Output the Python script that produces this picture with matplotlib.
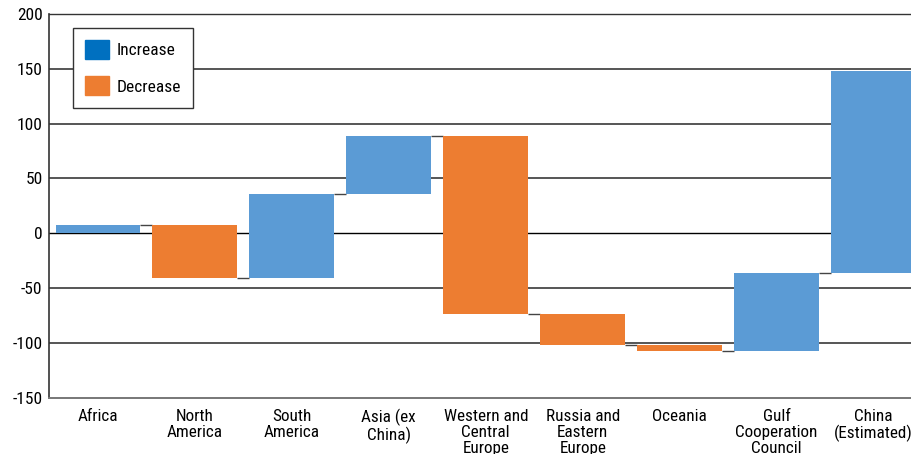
import matplotlib.pyplot as plt
from matplotlib.patches import Patch
import numpy as np

plt.rcParams['font.family'] = ['Roboto Condensed', 'DejaVu Sans']
plt.rcParams['font.stretch'] = 'condensed'
plt.rcParams['axes.unicode_minus'] = False

categories = ['Africa', 'North\nAmerica', 'South\nAmerica', 'Asia (ex\nChina)',
              'Western and\nCentral\nEurope', 'Russia and\nEastern\nEurope',
              'Oceania', 'Gulf\nCooperation\nCouncil', 'China\n(Estimated)']
changes = [7, -48, 77, 53, -163, -28, -6, 72, 184]

up_color = '#5B9BD5'
down_color = '#ED7D31'
legend_up = '#0070C0'

ends = np.cumsum(changes)
starts = ends - np.array(changes)
x = np.arange(len(categories))
w = 0.876

fig = plt.figure(figsize=(9.12, 4.54), dpi=100)
ax = fig.add_axes([49.5 / 912, 56.5 / 454, (922 - 49.5) / 912, (397.5 - 14) / 454])

for v in range(-100, 201, 50):
    if v == 0:
        ax.axhline(0, color='black', lw=1.0, zorder=1)
    else:
        ax.axhline(v, color='#555555', lw=1.4, zorder=1)

colors = [up_color if c > 0 else down_color for c in changes]
ax.bar(x, changes, bottom=starts, width=w, color=colors, zorder=3)

# connectors between bars
ax.hlines(ends[:-1], x[:-1] + w / 2, x[1:] - w / 2, color='#444444', lw=1.0, zorder=2)

ax.set_xlim(-0.5, len(categories) - 0.5)
ax.set_ylim(-150, 200)
ax.set_yticks(range(-150, 201, 50))
ax.set_xticks(x)
ax.set_xticklabels(categories, fontsize=12.3, linespacing=1.1, va='top')
ax.tick_params(axis='x', length=0, pad=8)
ax.tick_params(axis='y', length=0, pad=5, labelsize=12.5)

ax.spines['right'].set_visible(False)
ax.spines['left'].set_color('#333333')
ax.spines['left'].set_linewidth(1.2)
ax.spines['bottom'].set_color('#777777')
ax.spines['bottom'].set_linewidth(1.4)
ax.spines['top'].set_color('#333333')
ax.spines['top'].set_linewidth(1.0)

handles = [Patch(color=legend_up, label='Increase'), Patch(color=down_color, label='Decrease')]
leg = ax.legend(handles=handles, loc='upper left', bbox_to_anchor=(23.5 / 872.5, 1 - 14 / 383.5),
                fontsize=12.5, frameon=True, fancybox=False, edgecolor='#333333',
                handlelength=1.35, handleheight=1.3, labelspacing=1.0, borderpad=0.7,
                handletextpad=0.45, borderaxespad=0)
leg.get_frame().set_linewidth(1.0)
leg.get_frame().set_alpha(1)

fig.savefig('out.png', dpi=100)
